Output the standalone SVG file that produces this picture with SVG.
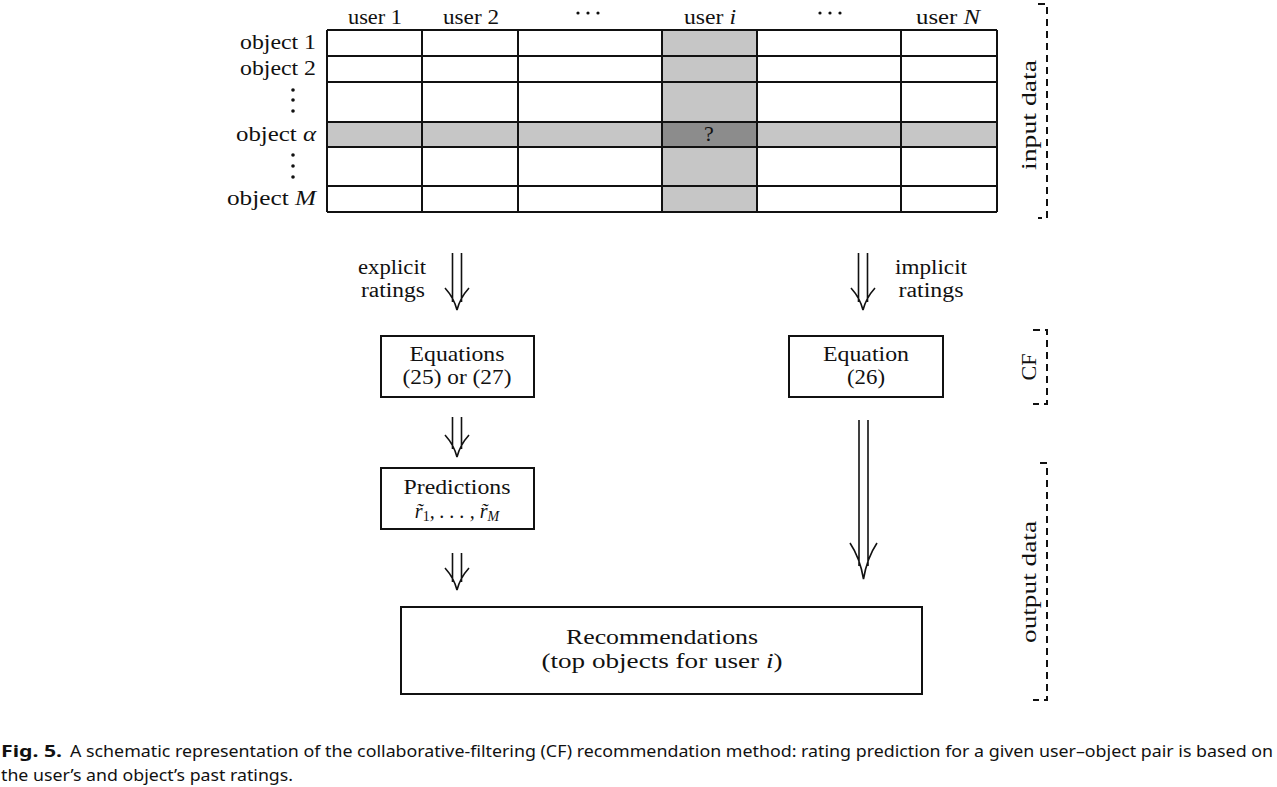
<svg xmlns="http://www.w3.org/2000/svg" width="1277" height="787" viewBox="0 0 1277 787">
<style>
.t{font-family:"Liberation Serif","DejaVu Serif",serif;font-size:22px;fill:#111}
.s{font-size:20px}
.m{font-style:italic}
.c{text-anchor:middle}
.r{text-anchor:end}
.grid{stroke:#111;stroke-width:2;fill:none}
.box{stroke:#111;stroke-width:2;fill:#fff}
.br{stroke:#111;stroke-width:2;fill:none;stroke-dasharray:7 5}
.ar{stroke:#111;stroke-width:1.6;fill:none}
.cap{font-family:"Noto Sans","Liberation Sans",sans-serif;font-size:16.5px;fill:#111}
</style>
<rect width="1277" height="787" fill="#fff"/>
<g id="matrix">
<rect x="662" y="30" width="95" height="182" fill="#c6c6c6"/>
<rect x="327" y="122" width="670" height="25" fill="#c6c6c6"/>
<rect x="662" y="122" width="95" height="25" fill="#8c8c8c"/>
<path class="grid" d="M327,30H997M327,56H997M327,82H997M327,122H997M327,147H997M327,186H997M327,212H997M327,30V212M422,30V212M518,30V212M662,30V212M757,30V212M901,30V212M997,30V212"/>
<text class="t c" x="709" y="141">?</text>
<text class="t c" x="375" y="24" textLength="54" lengthAdjust="spacingAndGlyphs">user 1</text>
<text class="t c" x="471" y="24" textLength="56" lengthAdjust="spacingAndGlyphs">user 2</text>
<text class="t c" x="710" y="24" textLength="52" lengthAdjust="spacingAndGlyphs">user <tspan class="m">i</tspan></text>
<text class="t c" x="948" y="24" textLength="64" lengthAdjust="spacingAndGlyphs">user <tspan class="m">N</tspan></text>
<g fill="#111">
<circle cx="578" cy="13" r="1.6"/><circle cx="588" cy="13" r="1.6"/><circle cx="598" cy="13" r="1.6"/>
<circle cx="820" cy="13" r="1.6"/><circle cx="830" cy="13" r="1.6"/><circle cx="840" cy="13" r="1.6"/>
<circle cx="293" cy="90" r="1.8"/><circle cx="293" cy="100" r="1.8"/><circle cx="293" cy="111" r="1.8"/>
<circle cx="293" cy="155" r="1.8"/><circle cx="293" cy="166" r="1.8"/><circle cx="293" cy="177" r="1.8"/>
</g>
<text class="t r" x="316" y="49" textLength="76" lengthAdjust="spacingAndGlyphs">object 1</text>
<text class="t r" x="316" y="75" textLength="76" lengthAdjust="spacingAndGlyphs">object 2</text>
<text class="t r" x="316" y="141" textLength="80" lengthAdjust="spacingAndGlyphs">object <tspan class="m">α</tspan></text>
<text class="t r" x="316" y="205" textLength="89" lengthAdjust="spacingAndGlyphs">object <tspan class="m">M</tspan></text>
</g>
<g id="brackets">
<path class="br" d="M1038,4H1047V218H1038"/>
<text class="t c" transform="translate(1036,115) rotate(-90)" textLength="110" lengthAdjust="spacingAndGlyphs">input data</text>
<path class="br" d="M1033,330H1047V404H1033"/>
<text class="t c" transform="translate(1036,367) rotate(-90)" textLength="27" lengthAdjust="spacingAndGlyphs">CF</text>
<path class="br" d="M1040,463H1047V700H1033"/>
<text class="t c" transform="translate(1036,582) rotate(-90)" textLength="122" lengthAdjust="spacingAndGlyphs">output data</text>
</g>
<g id="labels">
<text class="t s c" x="392" y="274" textLength="68" lengthAdjust="spacingAndGlyphs">explicit</text>
<text class="t s c" x="393" y="297" textLength="64" lengthAdjust="spacingAndGlyphs">ratings</text>
<text class="t s c" x="931" y="274" textLength="72" lengthAdjust="spacingAndGlyphs">implicit</text>
<text class="t s c" x="931" y="297" textLength="65" lengthAdjust="spacingAndGlyphs">ratings</text>
</g>
<g id="eq2527">
<rect class="box" x="381" y="336" width="153" height="61"/>
<text class="t c" x="457" y="361" textLength="95" lengthAdjust="spacingAndGlyphs">Equations</text>
<text class="t c" x="457" y="384" textLength="109" lengthAdjust="spacingAndGlyphs">(25) or (27)</text>
</g>
<g id="predictions">
<rect class="box" x="381" y="468" width="153" height="61"/>
<text class="t c" x="457" y="494" textLength="107" lengthAdjust="spacingAndGlyphs">Predictions</text>
<text class="t s c m" x="457" y="518">r̃<tspan font-size="14" dy="3" font-style="normal">1</tspan><tspan dy="-3">, . . . , r̃</tspan><tspan font-size="14" dy="3">M</tspan></text>
</g>
<g id="eq26">
<rect class="box" x="789" y="336" width="154" height="61"/>
<text class="t c" x="866" y="361" textLength="86" lengthAdjust="spacingAndGlyphs">Equation</text>
<text class="t c" x="866" y="384" textLength="38" lengthAdjust="spacingAndGlyphs">(26)</text>
</g>
<g id="recommendations">
<rect class="box" x="401" y="607" width="521" height="87"/>
<text class="t c" x="662" y="644" textLength="192" lengthAdjust="spacingAndGlyphs">Recommendations</text>
<text class="t c" x="662" y="668" textLength="241" lengthAdjust="spacingAndGlyphs">(top objects for user <tspan class="m">i</tspan>)</text>
</g>
<g id="connectors">
<path class="ar" d="M452.5,253V302M461.5,253V302M445,288Q454,298 457,310Q460,298 469,288"/>
<path class="ar" d="M858.5,253V302M867.5,253V302M851,288Q860,298 863,310Q866,298 875,288"/>
<path class="ar" d="M452.5,417V449M461.5,417V449M445,435Q454,445 457,457Q460,445 469,435"/>
<path class="ar" d="M452.5,553V582M461.5,553V582M445,568Q454,578 457,590Q460,578 469,568"/>
<path class="ar" d="M859,420V566M868,420V566M850,543Q860,558 863.5,579Q867,558 877,543"/>
</g>
<g id="caption">
<text class="cap" x="1" y="757" font-weight="bold" textLength="61" lengthAdjust="spacingAndGlyphs">Fig. 5.</text>
<text class="cap" x="70" y="757" textLength="1203" lengthAdjust="spacingAndGlyphs">A schematic representation of the collaborative-filtering (CF) recommendation method: rating prediction for a given user–object pair is based on</text>
<text class="cap" x="1" y="781" textLength="292" lengthAdjust="spacingAndGlyphs">the user’s and object’s past ratings.</text>
</g>
</svg>
